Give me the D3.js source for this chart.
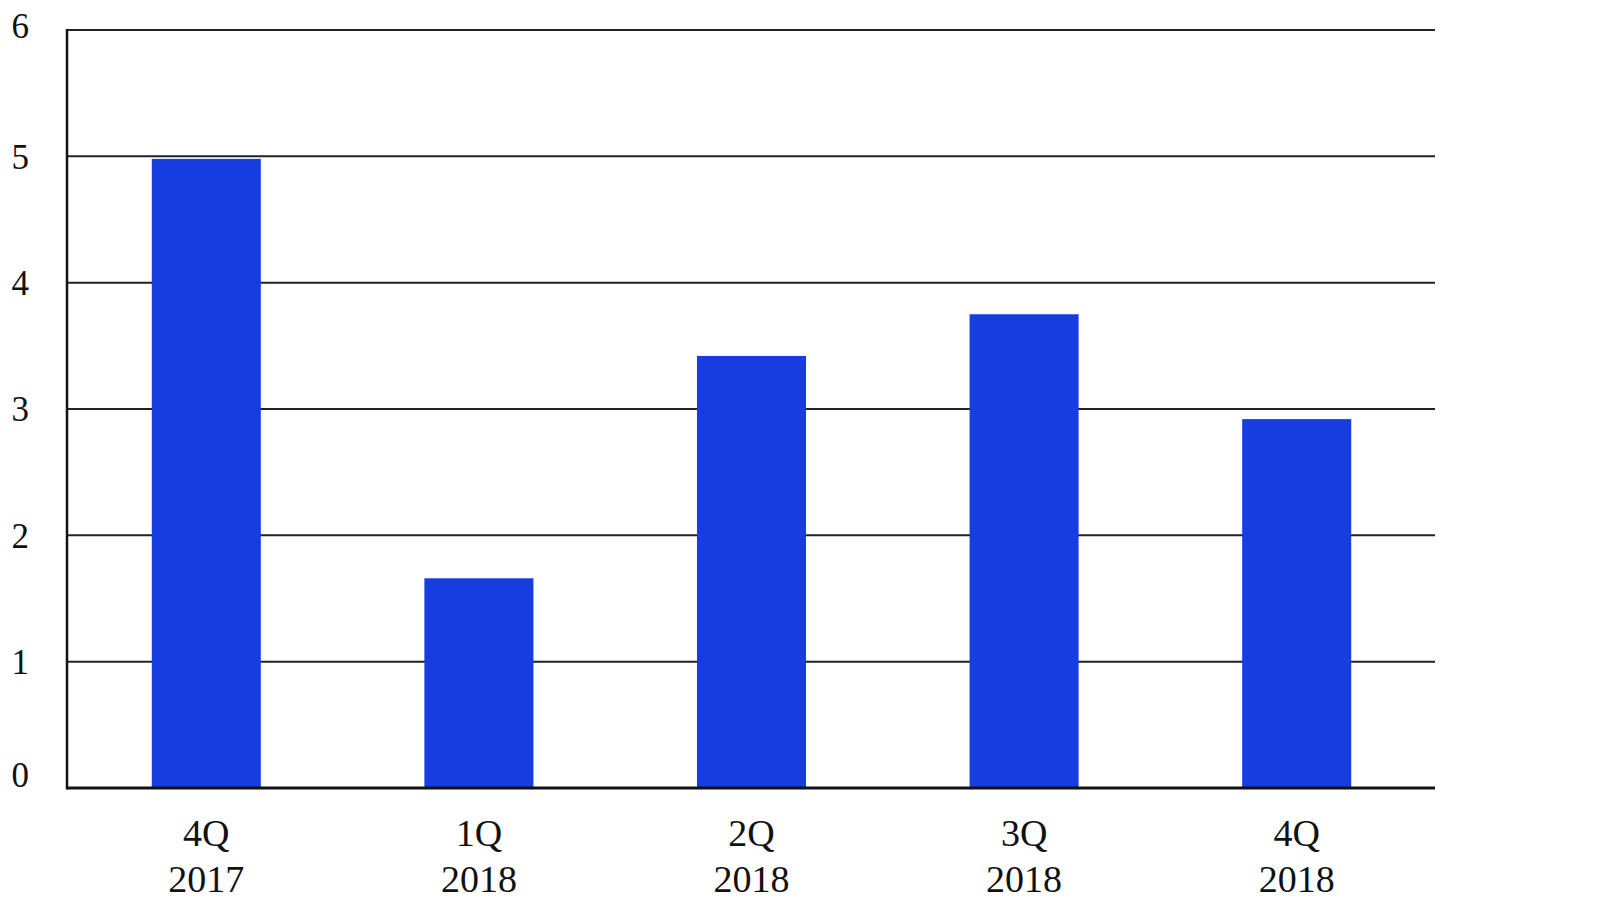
<!DOCTYPE html>
<html><head><meta charset="utf-8">
<script src="https://cdn.jsdelivr.net/npm/d3@7"></script>
<style>body{margin:0;background:#fff}svg{display:block}</style>
</head><body>
<svg id="c" width="1611" height="903"></svg>
<script>
const categories = [["4Q","2017"],["1Q","2018"],["2Q","2018"],["3Q","2018"],["4Q","2018"]];
const values = [4.98, 1.66, 3.42, 3.75, 2.92];
const yTicks = [0,1,2,3,4,5,6];

const svg = d3.select("#c");
const m = {left:67, right:1435, top:30, bottom:788};
const x = d3.scaleBand().domain(categories.map((d,i)=>i)).range([m.left+3,m.right-2]).paddingInner(0.6).paddingOuter(0.3);
const y = d3.scaleLinear().domain([0,6]).range([m.bottom,m.top]);
const font = "'Liberation Serif','Times New Roman',serif";

// gridlines
svg.append("g").selectAll("line").data(yTicks.filter(d=>d>0)).join("line")
  .attr("x1",m.left).attr("x2",m.right).attr("y1",d=>y(d)).attr("y2",d=>y(d))
  .attr("stroke","#222").attr("stroke-width",2);

// bars
svg.append("g").selectAll("rect").data(values).join("rect")
  .attr("x",(d,i)=>x(i)).attr("width",x.bandwidth())
  .attr("y",d=>y(d)).attr("height",d=>y(0)-y(d))
  .attr("fill","#173de0");

// axes lines
svg.append("line").attr("x1",m.left).attr("x2",m.left).attr("y1",m.top-1).attr("y2",m.bottom+1.5)
  .attr("stroke","#111").attr("stroke-width",2.5);
svg.append("line").attr("x1",m.left).attr("x2",m.right).attr("y1",m.bottom).attr("y2",m.bottom)
  .attr("stroke","#111").attr("stroke-width",3);

// y labels
svg.append("g").selectAll("text").data(yTicks).join("text")
  .attr("x",29).attr("y",d=>y(d) + (d===0?-13:(d===6?-4:0)))
  .attr("dy","0.35em").attr("text-anchor","end")
  .attr("font-family",font).attr("font-size",35).attr("fill","#111")
  .text(d=>d);

// x labels
const xl = svg.append("g").selectAll("text").data(categories).join("text")
  .attr("text-anchor","middle").attr("font-family",font).attr("font-size",38).attr("fill","#111")
  .attr("transform",(d,i)=>`translate(${x(i)+x.bandwidth()/2},0)`);
xl.append("tspan").attr("x",0).attr("y",846).text(d=>d[0]);
xl.append("tspan").attr("x",0).attr("y",892).text(d=>d[1]);
</script>
</body></html>
